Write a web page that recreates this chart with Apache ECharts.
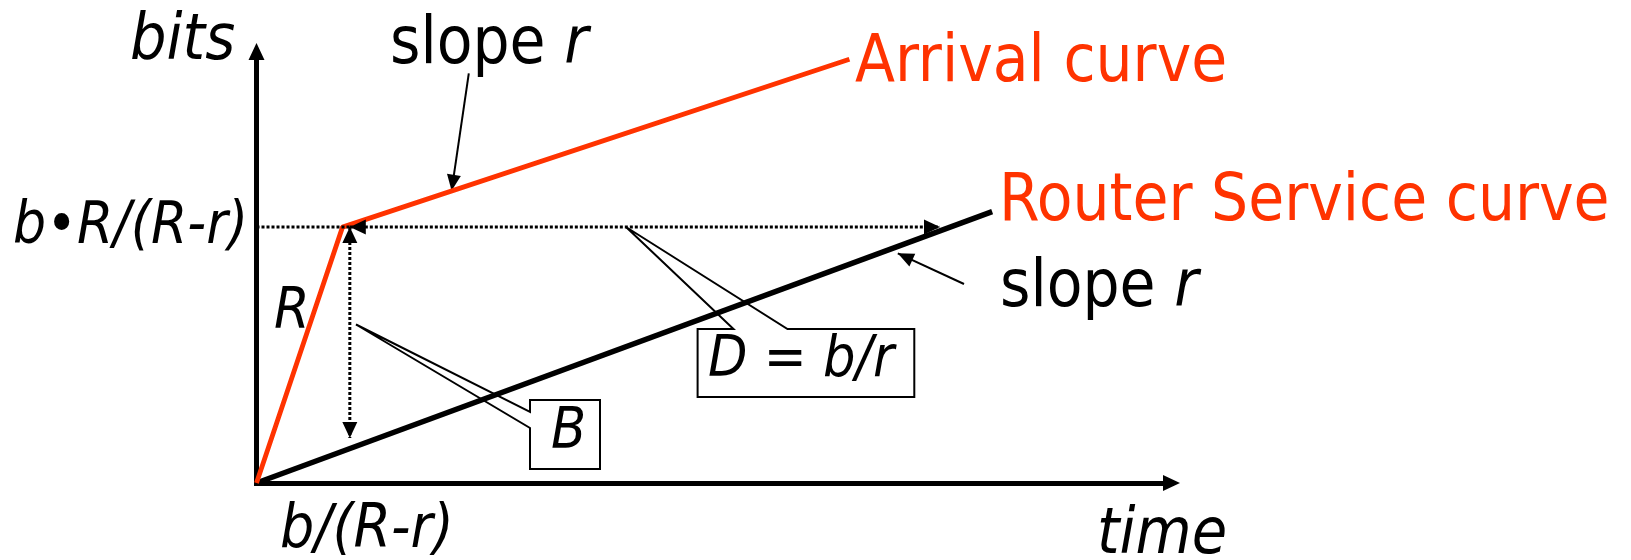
<!DOCTYPE html>
<html>
<head>
<meta charset="utf-8">
<script src="https://cdn.jsdelivr.net/npm/echarts@6/dist/echarts.min.js"></script>
<style>
  html, body { margin: 0; background: #fff; }
  #chart { width: 1631px; height: 560px; }
</style>
</head>
<body>
<div id="chart"></div>
<script>
// arrival curve (token bucket) and service curve, arbitrary units
var arrivalTime = [0, 9.4, 64.8];
var arrivalBits = [0, 59.3, 98.2];
var serviceTime = [0, 80.4];
var serviceBits = [0, 62.9];
var burstBits = 59.3;   // b•R/(R-r)
var burstTime = 10.2;   // b/(R-r)
var delayEnd = 74.7;
var bufferLow = 10.4;

var RED = '#ff3300';
var FONT = '"DejaVu Sans Condensed", "DejaVu Sans", sans-serif';

function pairs(xs, ys) {
  return xs.map(function (x, i) { return [x, ys[i]]; });
}

// dotted guides: x1, y1, x2, y2, head at start, head at end
var guides = [
  [0, burstBits, burstTime, burstBits, 0, 0],
  [burstTime, burstBits, delayEnd, burstBits, 1, 1],
  [burstTime, burstBits, burstTime, bufferLow, 1, 1]
];

function head(tip, from, len, half) {
  var dx = tip[0] - from[0], dy = tip[1] - from[1];
  var d = Math.sqrt(dx * dx + dy * dy);
  var ux = dx / d, uy = dy / d;
  var bx = tip[0] - ux * len, by = tip[1] - uy * len;
  return [[tip[0], tip[1]], [bx - uy * half, by + ux * half], [bx + uy * half, by - ux * half]];
}

function pointer(x1, y1, x2, y2) {
  return {
    type: 'group',
    children: [
      { type: 'line', shape: { x1: x1, y1: y1, x2: x2, y2: y2 }, style: { stroke: '#000', lineWidth: 2 } },
      { type: 'polygon', shape: { points: head([x2, y2], [x1, y1], 16, 7) }, style: { fill: '#000' } }
    ]
  };
}

function label(text, x, baseline, size, color, italic) {
  return {
    type: 'text', x: x, y: baseline - 0.297 * size, z: 100,
    style: {
      text: text, fontSize: size, fontFamily: FONT, fontStyle: italic ? 'italic' : 'normal',
      fill: color || '#000', align: 'left', verticalAlign: 'middle'
    }
  };
}

function slopeLabel(x, baseline) {
  var t = label('{n|slope }{i|r}', x, baseline, 65, '#000', false);
  t.style.rich = {
    n: { fontSize: 65, fontFamily: FONT, fill: '#000' },
    i: { fontSize: 65, fontFamily: FONT, fontStyle: 'italic', fill: '#000' }
  };
  return t;
}

var callout = { fill: '#fff', stroke: '#000', lineWidth: 2 };

var chart = echarts.init(document.getElementById('chart'));
var axisStyle = {
  show: true, onZero: false, symbol: ['none', 'triangle'], symbolSize: [16, 17],
  lineStyle: { color: '#000', width: 5, cap: 'square' }
};
var option = {
  animation: false,
  grid: { left: 256.5, top: 51.5, right: 459.5, bottom: 77 },
  xAxis: {
    type: 'value', min: 0, max: 100,
    axisLine: axisStyle, axisTick: { show: false }, axisLabel: { show: false }, splitLine: { show: false }
  },
  yAxis: {
    type: 'value', min: 0, max: 100,
    axisLine: axisStyle, axisTick: { show: false }, axisLabel: { show: false }, splitLine: { show: false }
  },
  graphic: [
    { type: 'polygon', z: 0, shape: { points: [[530, 400], [600, 400], [600, 469], [530, 469], [530, 428], [356, 324.5], [530, 412]] }, style: callout },
    { type: 'polygon', z: 0, shape: { points: [[697.6, 329], [733.5, 329], [626, 227], [787.5, 329], [914.3, 329], [914.3, 397], [697.6, 397]] }, style: callout },
    pointer(468.8, 73.3, 451.6, 190.7),
    pointer(964, 284, 897.8, 253.3),
    label('bits', 130, 61.7, 64, '#000', true),
    slopeLabel(390, 65),
    label('Arrival curve', 855, 83.3, 65, RED, false),
    label('Router Service curve', 999, 222, 65, RED, false),
    slopeLabel(1000, 308),
    label('b\u2022R/(R-r)', 13, 245, 58, '#000', true),
    label('R', 274, 330, 57, '#000', true),
    label('B', 551, 450, 57, '#000', true),
    label('D = b/r', 708, 378, 57, '#000', true),
    label('b/(R-r)', 280, 549, 60, '#000', true),
    label('time', 1097, 555, 64, '#000', true)
  ],
  series: [
    {
      name: 'Router Service curve', type: 'line', data: pairs(serviceTime, serviceBits),
      symbol: 'none', lineStyle: { color: '#000', width: 5.5 }, z: 3
    },
    {
      name: 'Arrival curve', type: 'line', data: pairs(arrivalTime, arrivalBits),
      symbol: 'none', lineStyle: { color: RED, width: 4.8 }, z: 4
    },
    {
      name: 'guides', type: 'custom', data: guides, z: 5,
      encode: { x: [0, 2], y: [1, 3] },
      renderItem: function (params, api) {
        var p1 = api.coord([api.value(0), api.value(1)]);
        var p2 = api.coord([api.value(2), api.value(3)]);
        var kids = [{
          type: 'line', shape: { x1: p1[0], y1: p1[1], x2: p2[0], y2: p2[1] },
          style: { stroke: '#000', lineWidth: 3, lineDash: [3, 2] }
        }];
        if (api.value(4)) kids.push({ type: 'polygon', shape: { points: head(p1, p2, 16, 7.5) }, style: { fill: '#000' } });
        if (api.value(5)) kids.push({ type: 'polygon', shape: { points: head(p2, p1, 16, 7.5) }, style: { fill: '#000' } });
        return { type: 'group', children: kids };
      }
    }
  ]
};
chart.setOption(option);
</script>
</body>
</html>
